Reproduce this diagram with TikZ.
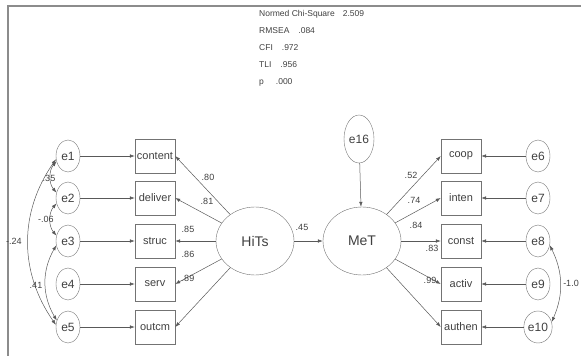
\documentclass[tikz,border=0pt]{standalone}
\usepackage{fontspec}
\setmainfont{Liberation Sans}
\usetikzlibrary{arrows.meta}
\usetikzlibrary{shapes.geometric}

\begin{document}
\begin{tikzpicture}[
  x=1pt,y=-1pt,
  every node/.style={text=black!75,inner sep=0pt},
  obs/.style={draw=black!55,minimum width=40pt,minimum height=34pt,font=\fontsize{11}{13}\selectfont},
  err/.style={ellipse,draw=black!55,minimum width=24pt,minimum height=32pt,font=\fontsize{12}{14}\selectfont},
  lat/.style={ellipse,draw=black!55,minimum width=78pt,minimum height=68pt,font=\fontsize{14}{16}\selectfont},
  coef/.style={font=\fontsize{9}{11}\selectfont},
  stat/.style={anchor=west,font=\fontsize{8.5}{10}\selectfont},
  conn/.style={draw=black!65,line width=0.5pt,-{Latex[length=5pt,width=3.5pt]}},
  cov/.style={draw=black!65,line width=0.5pt,{Latex[length=5pt,width=3.5pt]}-{Latex[length=5pt,width=3.5pt]}},
]
\useasboundingbox (0,0) rectangle (581,356);
\draw[black!45,line width=1.5pt] (8,356) -- (8,6) -- (581,6);

% fit indices
\node[stat] (chi) at (259,14) {Normed Chi-Square\hspace{8pt}2.509};
\node[stat] (rmsea) at (259,31) {RMSEA\hspace{9pt}.084};
\node[stat] (cfi) at (259,48) {CFI\hspace{9pt}.972};
\node[stat] (tli) at (259,65) {TLI\hspace{9pt}.956};
\node[stat] (pval) at (259,82) {p\hspace{12pt}.000};

% latent variables
\node[lat] (hits) at (255,241) {HiTs};
\node[lat] (met) at (362,241) {MeT};
\node[err,minimum width=30pt,minimum height=48pt] (e16) at (359,139) {e16};
\draw[conn] (e16) -- (met);
\draw[conn] (hits) -- (met);
\node[coef] (l45) at (302,227) {.45};

% HiTs indicators
\foreach \i/\b/\y/\v/\lx/\ly in {1/content/156/.80/208/177, 2/deliver/198/.81/207/201,
    3/struc/241/.85/188/229, 4/serv/284/.86/188/254, 5/outcm/327/.89/188/278}{
  \node[err] (e\i) at (68,\y) {e\i};
  \node[obs] (\b) at (155,\y) {\b};
  \draw[conn] (e\i) -- (\b);
  \draw[conn] (hits) -- (\b.east);
  \node[coef] (l\b) at (\lx,\ly) {\v};
}

% MeT indicators
\foreach \i/\b/\y/\v/\lx/\ly in {6/coop/156/.52/411/175, 7/inten/198/.74/414/200,
    8/const/241/.84/416/225, 9/activ/284/.83/432/248, 10/authen/327/.99/430/280}{
  \node[obs] (\b) at (461,\y) {\b};
  \node[err] (e\i) at (538,\y) {e\i};
  \draw[conn] (e\i) -- (\b);
  \draw[conn] (met) -- (\b.west);
  \node[coef] (l\b) at (\lx,\ly) {\v};
}

% error covariances
\draw[cov] (e1.205) to[bend right=40] (e2.155);
\draw[cov] (e2.205) to[bend right=40] (e3.155);
\draw[cov] (e1.195) to[bend right=35] (e5.170);
\draw[cov] (e3.200) to[bend right=30] (e5.150);
\draw[cov] (e8.340) to[bend left=25] (e10.20);
\node[coef] (c12) at (49,178) {.35};
\node[coef] (c23) at (46,219) {-.06};
\node[coef] (c15) at (14,241) {-.24};
\node[coef] (c35) at (36,285) {.41};
\node[coef] (c810) at (571,283) {-1.0};
\end{tikzpicture}
\end{document}
